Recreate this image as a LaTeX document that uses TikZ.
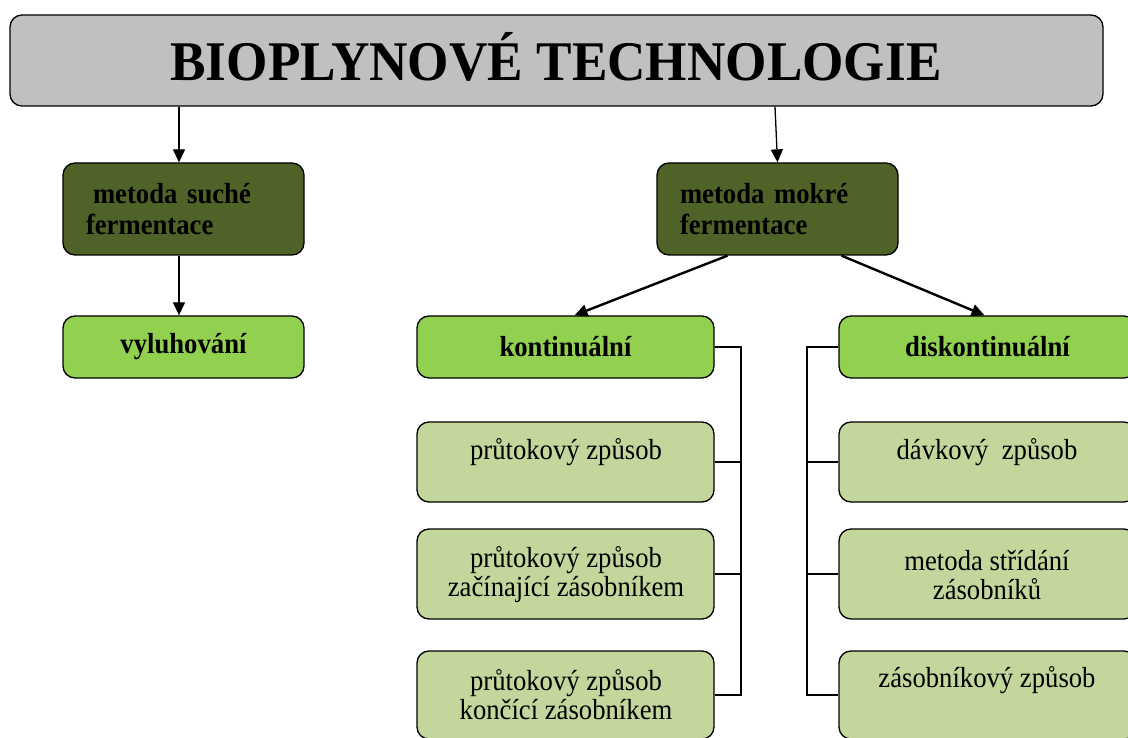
\documentclass[tikz,border=0pt]{standalone}
\usepackage{fontspec}
\setmainfont{Liberation Serif}
\newfontfamily\narrowserif[FakeStretch=0.92]{Liberation Serif}
\newfontfamily\headserif[FakeStretch=0.95]{Liberation Serif}
\usetikzlibrary{arrows.meta}
\definecolor{titlegray}{HTML}{C0C0C0}
\definecolor{darkolive}{HTML}{4F6228}
\definecolor{brightgreen}{HTML}{92D050}
\definecolor{paleolive}{HTML}{C3D69B}
\begin{document}
\begin{tikzpicture}[x=1pt,y=-1pt,
  box/.style={draw=black, line width=1.3pt, rounded corners=12pt, inner sep=0pt},
  titlebox/.style={box, fill=titlegray, minimum width=1093pt, minimum height=91pt},
  methodbox/.style={box, fill=darkolive, minimum width=241pt, minimum height=92pt,
    text width=195pt, align=left, font=\narrowserif\fontsize{29}{31}\selectfont\bfseries},
  headbox/.style={box, fill=brightgreen, minimum height=62pt,
    font=\narrowserif\fontsize{29}{30}\selectfont\bfseries},
  leafbox/.style={box, fill=paleolive, minimum width=297pt},
  leaftext/.style={align=center, inner sep=0pt, font=\narrowserif\fontsize{29}{29}\selectfont},
  arr/.style={line width=1.3pt, -{Triangle[length=13pt,width=12pt]}},
  thickarr/.style={line width=2.4pt, -{Triangle[length=13pt,width=12pt]}},
  bus/.style={line width=1.3pt}
]
\useasboundingbox (0,0) rectangle (1128,738);
\clip (0,0) rectangle (1128,738);

% title
\node[titlebox] (title) at (556.5,60.5) {};
\node[font=\headserif\fontsize{56}{60}\selectfont\bfseries, inner sep=0pt, anchor=base] (titletext) at (556,81) {BIOPLYNOVÉ TECHNOLOGIE};

% the two methods
\node[methodbox] (dry) at (183.5,209) {\hspace*{7pt}metoda suché\\fermentace};
\node[methodbox] (wet) at (777.5,209) {metoda mokré\\fermentace};

% second level
\node[headbox, minimum width=241pt] (vyl) at (183.5,347) {vyluhování};
\node[headbox, minimum width=297pt] (kont) at (565.5,347) {kontinuální};
\node[headbox, minimum width=297pt] (dis) at (987.5,347) {diskontinuální};

% continuous variants
\node[leafbox, minimum height=80pt] (k1) at (565.5,462) {};
\node[leafbox, minimum height=90pt] (k2) at (565.5,574) {};
\node[leafbox, minimum height=88pt] (k3) at (565.5,695) {};
\node[leaftext] (k1t) at (566,452) {průtokový způsob};
\node[leaftext] (k2t) at (566,575) {průtokový způsob\\začínající zásobníkem};
\node[leaftext] (k3t) at (566,695) {průtokový způsob\\končící zásobníkem};

% discontinuous variants
\node[leafbox, minimum height=80pt] (d1) at (987.5,462) {};
\node[leafbox, minimum height=90pt] (d2) at (987.5,574) {};
\node[leafbox, minimum height=88pt] (d3) at (987.5,695) {};
\node[leaftext] (d1t) at (987,452) {dávkový\ \ způsob};
\node[leaftext] (d2t) at (987,575) {metoda střídání\\zásobníků};
\node[leaftext] (d3t) at (987,680) {zásobníkový způsob};

% arrows
\draw[arr] ([xshift=-4.5pt]dry.north |- title.south) -- ([xshift=-4.5pt]dry.north);
\draw[arr] ([xshift=-2.5pt]wet.north |- title.south) -- (wet.north);
\draw[arr] ([xshift=-4.5pt]dry.south) -- ([xshift=-4.5pt]vyl.north);
\draw[thickarr] ([xshift=-50pt]wet.south) -- ([xshift=9pt]kont.north);
\draw[thickarr] ([xshift=64pt]wet.south) -- ([xshift=-3pt]dis.north);

% bracket connectors
\coordinate (kbus) at (741,347);
\coordinate (dbus) at (807,347);
\draw[bus] (kont.east) -- (kbus) -- (kbus |- k3.east) -- (k3.east);
\draw[bus] (kbus |- k1.east) -- (k1.east);
\draw[bus] (kbus |- k2.east) -- (k2.east);
\draw[bus] (dis.west) -- (dbus) -- (dbus |- d3.west) -- (d3.west);
\draw[bus] (dbus |- d1.west) -- (d1.west);
\draw[bus] (dbus |- d2.west) -- (d2.west);
\end{tikzpicture}
\end{document}
